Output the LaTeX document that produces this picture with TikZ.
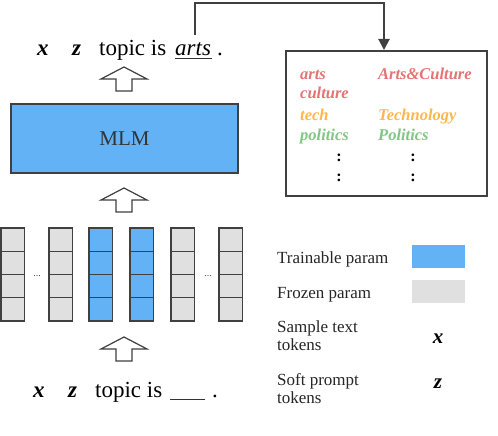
\documentclass[tikz,border=0pt]{standalone}
\usepackage{fontspec}
\setmainfont{Liberation Serif}
\usetikzlibrary{arrows.meta}
\definecolor{trainblue}{HTML}{62B2F5}
\definecolor{frozengray}{HTML}{E0E0E0}
\definecolor{edgegray}{HTML}{404040}
\definecolor{catred}{HTML}{E57373}
\definecolor{catorange}{HTML}{FFB74D}
\definecolor{catgreen}{HTML}{81C784}
\tikzset{
  blockarrow/.style={draw=edgegray, line width=1.2pt, fill=white, line join=miter},
  cellfrozen/.style={draw=edgegray, line width=1.2pt, fill=frozengray},
  celltrain/.style={draw=edgegray, line width=1.2pt, fill=trainblue},
  maintext/.style={inner sep=0pt, anchor=base west, font=\fontsize{23}{25}\selectfont},
  cattext/.style={inner sep=0pt, anchor=base west, font=\fontsize{16.5}{18}\selectfont\bfseries\itshape},
  legtext/.style={inner sep=0pt, anchor=base west, font=\fontsize{17}{18}\selectfont, text=black!85},
  dotstext/.style={inner sep=0pt, anchor=center, font=\fontsize{16}{18}\selectfont\bfseries},
  conn/.style={draw=edgegray, line width=2pt},
}
\newcommand{\blkarrow}[2]{% tip x, tip y
  \draw[blockarrow] (#1,#2) -- (#1+23,#2+12) -- (#1+8,#2+12) -- (#1+8,#2+24) -- (#1-8,#2+24) -- (#1-8,#2+12) -- (#1-23,#2+12) -- cycle;}
\begin{document}
\begin{tikzpicture}[x=1pt,y=-1pt]
\useasboundingbox[fill=white] (0,0) rectangle (498,436);

% top sentence
\node[maintext] (tx) at (37,56) {\textbf{\textit{x}}};
\node[maintext] (tz) at (72,56) {\textbf{\textit{z}}};
\node[maintext] (ttopic) at (99,56) {topic is};
\node[maintext] (tarts) at (175,56) {\textit{arts}};
\draw[black!80, line width=0.8pt] (tarts.south west)++(0,2) -- ++(37,0);
\node[maintext] (tdot) at (217,56) {.};

% block arrows
\blkarrow{124}{67}
\blkarrow{124}{188}
\blkarrow{124}{337}

% MLM box
\node[draw=edgegray, line width=2pt, fill=trainblue, minimum width=227pt, minimum height=69pt, anchor=north west, inner sep=0pt, font=\fontsize{21}{24}\selectfont, text=black!80] (mlm) at (10,103) {MLM};

% token columns
\foreach \cx/\st in {1/cellfrozen, 49/cellfrozen, 89/celltrain, 130/celltrain, 171/cellfrozen, 219/cellfrozen}{
  \foreach \k in {0,1,2,3}{
    \draw[\st] (\cx,228+23.25*\k) rectangle (\cx+23.5,228+23.25*\k+23.25);
  }
}
\node[inner sep=0pt, font=\fontsize{10}{10}\selectfont, text=edgegray] (dl) at (37,276) {...};
\node[inner sep=0pt, font=\fontsize{10}{10}\selectfont, text=edgegray] (dr) at (208,276) {...};

% bottom sentence
\node[maintext] (bx) at (33,397) {\textbf{\textit{x}}};
\node[maintext] (bz) at (68,397) {\textbf{\textit{z}}};
\node[maintext] (btopic) at (95,397) {topic is};
\draw[black!80, line width=0.8pt] (170,399) -- (205,399);
\node[maintext] (bdot) at (212,397) {.};

% category box
\node[draw=edgegray, line width=2pt, minimum width=201pt, minimum height=145pt, anchor=north west, inner sep=0pt] (cat) at (285,50) {};
\coordinate (catin) at (384,50);
\node[cattext, text=catred] (c1) at (300,79) {arts};
\node[cattext, text=catred] (c2) at (300,99) {culture};
\node[cattext, text=catorange] (c3) at (300,120) {tech};
\node[cattext, text=catgreen] (c4) at (300,140) {politics};
\node[cattext, text=catred] (d1) at (378,79) {Arts\&Culture};
\node[cattext, text=catorange] (d3) at (378,120) {Technology};
\node[cattext, text=catgreen] (d4) at (378,140) {Politics};
\node[dotstext] (v1) at (339,158) {:};
\node[dotstext] (v2) at (339,178) {:};
\node[dotstext] (v3) at (413,158) {:};
\node[dotstext] (v4) at (413,178) {:};

% connector
\coordinate (cstart) at (195,35);
\draw[conn, -{Triangle[length=11pt,width=11pt]}] (cstart) -- (195,3) -- (384,3) -- (catin);

% legend
\node[legtext] (l1) at (277,263) {Trainable param};
\node[fill=trainblue, minimum width=53pt, minimum height=23pt, inner sep=0pt, anchor=north west] (r1) at (412,245) {};
\node[legtext] (l2) at (277,298) {Frozen param};
\node[fill=frozengray, minimum width=53pt, minimum height=23pt, inner sep=0pt, anchor=north west] (r2) at (412,280) {};
\node[legtext] (l3) at (277,332) {Sample text};
\node[legtext] (l3b) at (277,350) {tokens};
\node[inner sep=0pt, anchor=base, font=\fontsize{21}{24}\selectfont\bfseries\itshape] (lx) at (438,343) {x};
\node[legtext] (l4) at (277,385) {Soft prompt};
\node[legtext] (l4b) at (277,403) {tokens};
\node[inner sep=0pt, anchor=base, font=\fontsize{21}{24}\selectfont\bfseries\itshape] (lz) at (438,388) {z};
\end{tikzpicture}
\end{document}
